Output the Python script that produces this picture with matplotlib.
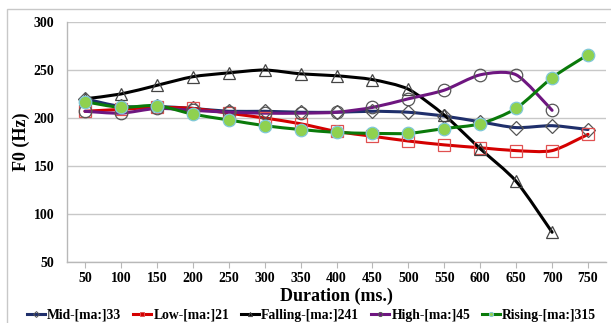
import matplotlib.pyplot as plt
from matplotlib.path import Path
from matplotlib.patches import PathPatch, Rectangle
from matplotlib.lines import Line2D
import numpy as np

# Data
duration = [50, 100, 150, 200, 250, 300, 350, 400, 450, 500, 550, 600, 650, 700, 750]

mid = [220, 212, 212, 210, 207, 207, 206, 206, 207, 206, 202, 196, 190, 192, 188]
low = [207, 209, 211, 210, 205, 200, 194, 186, 181, 176, 172, 169, 166, 166, 183]
falling = [220, 225, 234, 243, 247, 250, 246, 244, 240, 230, 203, 168, 134, 81]
high = [207, 205, 210, 208, 206, 205, 205, 206, 211, 220, 229, 245, 245, 208]
rising = [217, 211, 213, 204, 198, 192, 188, 185, 184, 184, 189, 194, 210, 242, 266]

labels = ["Mid-[ma:]33", "Low-[ma:]21", "Falling-[ma:]241", "High-[ma:]45", "Rising-[ma:]315"]
series = [mid, low, falling, high, rising]

line_colors = ["#1F2F6B", "#D40000", "#000000", "#6E1680", "#0A7A0A"]
markers = ["D", "s", "^", "o", "o"]
marker_face = ["none", "none", "none", "none", "#8FD14F"]
marker_edge = ["#555555", "#E05050", "#444444", "#555555", "#7FC8D8"]
marker_size = [7, 8, 9, 9, 9]

plt.rcParams['font.family'] = ['Liberation Serif', 'DejaVu Serif']
plt.rcParams['font.weight'] = 'bold'


def smooth_path(xs, ys, k=1 / 8.0):
    # Excel-like smoothed line: cubic bezier through the points
    pts = np.column_stack([xs, ys]).astype(float)
    verts = [pts[0]]
    codes = [Path.MOVETO]
    n = len(pts)
    for i in range(n - 1):
        p0 = pts[i - 1] if i > 0 else pts[i]
        p1 = pts[i]
        p2 = pts[i + 1]
        p3 = pts[i + 2] if i + 2 < n else pts[i + 1]
        c1 = p1 + (p2 - p0) * k
        c2 = p2 - (p3 - p1) * k
        verts += [c1, c2, p2]
        codes += [Path.CURVE4] * 3
    return Path(verts, codes)


fig = plt.figure(figsize=(6.11, 3.23), dpi=100)
ax = fig.add_axes([67 / 611, 1 - 262 / 323, (606 - 67) / 611, (262 - 22) / 323])

# outer chart border
fig.patches.append(Rectangle((7 / 611, -0.1), 1.2, 1 - 9 / 323 + 0.1, transform=fig.transFigure,
                             fill=False, edgecolor="#C8C8C8", linewidth=1.0))

for ys, c, m, mf, me, ms in zip(series, line_colors, markers, marker_face, marker_edge, marker_size):
    xs = duration[:len(ys)]
    ax.add_patch(PathPatch(smooth_path(xs, ys), facecolor="none", edgecolor=c,
                           linewidth=2.2, zorder=3, capstyle="round", joinstyle="round"))
    ax.plot(xs, ys, linestyle="none", marker=m, markersize=ms, markerfacecolor=mf,
            markeredgecolor=me, markeredgewidth=0.9, zorder=4)

ax.set_xlim(25, 775)
ax.set_ylim(50, 300)
ax.set_xticks(duration)
ax.set_yticks([50, 100, 150, 200, 250, 300])
ax.yaxis.grid(True, color="#C8C8C8", linewidth=1.0)
ax.set_axisbelow(True)

for s in ["top", "right"]:
    ax.spines[s].set_visible(False)
for s in ["left", "bottom"]:
    ax.spines[s].set_color("#B8B8B8")
    ax.spines[s].set_linewidth(1.0)

ax.tick_params(axis="x", direction="out", length=4, color="#B8B8B8", labelsize=10, pad=3)
ax.tick_params(axis="y", length=0, labelsize=10, pad=9)
for t in ax.get_xticklabels() + ax.get_yticklabels():
    t.set_fontweight("bold")

ax.set_xlabel("Duration (ms.)", fontsize=13, fontweight="bold", labelpad=2)
ax.set_ylabel("F0 (Hz)", fontsize=13, fontweight="bold", labelpad=3)

handles = []
for c, m, mf, me in zip(line_colors, markers, marker_face, marker_edge):
    handles.append(Line2D([], [], color=c, linewidth=2.2, marker=m, markersize=3,
                          markerfacecolor=mf, markeredgecolor=me, markeredgewidth=0.7))
fig.legend(handles, labels, loc="center", bbox_to_anchor=(311.5 / 611, 1 - 315 / 323), ncol=5,
           frameon=False, handlelength=1.35, handletextpad=0.15,
           columnspacing=0.85, prop={"weight": "bold", "size": 9.8})

fig.savefig("out.png", dpi=100)
